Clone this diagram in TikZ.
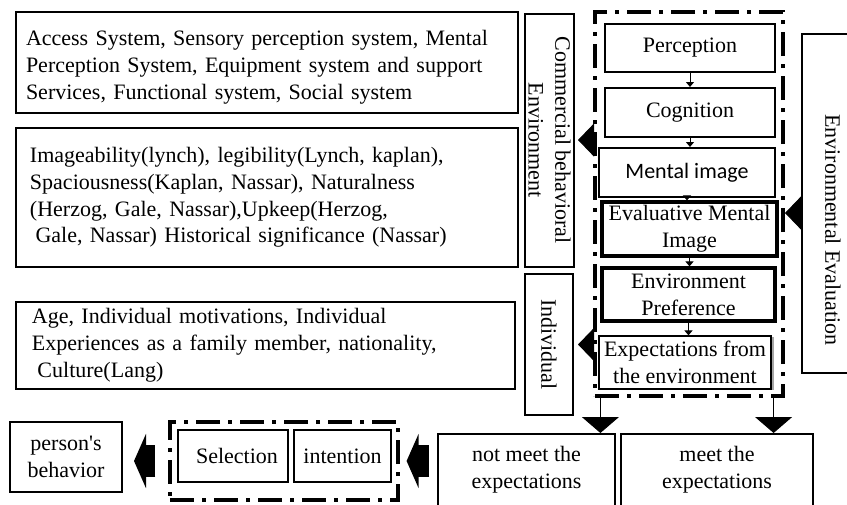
\documentclass[tikz,border=0pt]{standalone}
\usepackage{fontspec}
\setmainfont{Liberation Serif}
\newfontfamily\mentalfont{Carlito}
\usetikzlibrary{arrows.meta,shadows}

\begin{document}
\begin{tikzpicture}[x=0.5pt, y=-0.5pt, font=\fontsize{11}{13.4}\selectfont,
    box/.style={draw, line width=1pt, inner sep=0pt, align=center},
    thickbox/.style={box, line width=1.6pt},
    textbox/.style={draw, line width=1pt, align=left, inner ysep=0pt},
    dashdot/.style={draw, line width=1.6pt, dash pattern=on 12pt off 4pt on 2pt off 4pt},
    smalltip/.style={-{Triangle[length=2.5pt, width=4pt]}, line width=0.5pt},
    bigtip/.style={-{Triangle[length=8pt, width=16.5pt]}, line width=0.5pt},
    downtip/.style={-{Triangle[length=8pt, width=18.5pt]}, line width=0.5pt},
    fat/.style={-{Triangle[length=6pt, width=27pt]}, line width=16pt}]

    \useasboundingbox (0, 0) rectangle (847, 504);

    % left column
    \node[textbox, minimum width=251pt, text width=241pt, inner xsep=5pt, minimum height=50.5pt] (acc) at (267, 62.5)
        {\rule{0pt}{12.5pt}Access System, Sensory perception system, Mental\\Perception System, Equipment system and support\\Services, Functional system, Social system};
    \node[textbox, minimum width=251pt, text width=237pt, inner xsep=7pt, minimum height=69.5pt] (img) at (267, 197.5)
        {Imageability(lynch), legibility(Lynch, kaplan),\\Spaciousness(Kaplan, Nassar), Naturalness\\(Herzog, Gale, Nassar),Upkeep(Herzog,\\\hspace*{0.25em}Gale, Nassar) Historical significance (Nassar)};
    \node[textbox, minimum width=249.5pt, text width=233.5pt, inner xsep=8pt, minimum height=43.5pt] (age) at (265.5, 345.5)
        {Age, Individual motivations, Individual\\Experiences as a family member, nationality,\\\hspace*{0.25em}Culture(Lang)};
    \node[box, rotate=-90, minimum width=126.5pt, minimum height=24.5pt] (comm) at (549.5, 140) {Commercial behavioral\\Environment};
    \node[box, rotate=-90, minimum width=70.5pt, minimum height=24pt] (indiv) at (549, 344.5) {Individual};

    % process column
    \node[dashdot, minimum width=94pt, minimum height=192pt] (cont) at (689, 204) {};
    \node[box, minimum width=85pt, minimum height=24pt] (perc) at (690, 48) {Perception};
    \node[box, minimum width=85pt, minimum height=24.5pt] (cogn) at (690, 112.5) {Cognition};
    \node[box, minimum width=88pt, minimum height=24.5pt, font=\mentalfont\fontsize{11}{13}\selectfont] (ment) at (687, 172.5) {Mental image};
    \node[thickbox, minimum width=87.5pt, minimum height=27pt] (eval) at (689.5, 229) {Evaluative Mental\\Image};
    \node[thickbox, minimum width=86.5pt, minimum height=26.5pt] (pref) at (688.5, 294.5) {Environment\\Preference};
    \node[box, line width=0.6pt, fill=white, minimum width=86pt, minimum height=26.5pt,
        drop shadow={shadow xshift=1.5pt, shadow yshift=-0.5pt, fill=gray, opacity=0.7}] (expc) at (685, 362.5) {Expectations from\\the environment};

    \node[box, minimum width=29pt, minimum height=169.5pt] (envE) at (831, 203.5) {};
    \node[rotate=-90] (envT) at (833, 230) {Environmental Evaluation};
    \coordinate (evTip) at (785, 213);

    % bottom row
    \node[box, minimum width=88.5pt, minimum height=36pt] (nm) at (526.5, 470) {not meet the\\expectations};
    \node[box, minimum width=96pt, minimum height=36pt] (mt) at (717, 470) {meet the\\expectations};
    \node[dashdot, minimum width=114pt, minimum height=39pt] (selc) at (284, 461) {};
    \node[box, minimum width=55pt, minimum height=26pt] (sel) at (233, 456) {\hspace*{4pt}Selection};
    \node[box, minimum width=48.5pt, minimum height=26pt] (intn) at (342.5, 456) {intention};
    \node[box, minimum width=56pt, minimum height=35pt] (pers) at (66, 457) {person\textquotesingle s\\behavior};

    \draw [smalltip] (perc.south) -- (perc.south |- cogn.north);
    \draw [smalltip] (cogn.south) -- (cogn.south |- ment.north);
    \draw [smalltip] (ment.south) -- (ment.south |- eval.north);
    \draw [smalltip] (eval.south) -- (eval.south |- pref.north);
    \draw [smalltip] (pref.south) -- (pref.south |- expc.north);

    \draw [bigtip, shorten >=1.5pt] (cont.west |- comm) -- (comm);
    \draw [bigtip, shorten >=2pt] (cont.west |- indiv) -- (indiv);
    \draw [bigtip] (envE.west |- evTip) -- (evTip);

    \draw [downtip] ([xshift=3.5pt]cont.south west) -- ([xshift=3.5pt]cont.south west |- nm.north);
    \draw [downtip] ([xshift=-5.5pt]cont.south east) -- ([xshift=-5.5pt]cont.south east |- mt.north);

    \draw [fat, shorten <=4pt, shorten >=3.5pt] (nm.west |- selc) -- (selc.east);
    \draw [fat, shorten <=6.5pt, shorten >=5.5pt] (selc.west) -- (selc.west -| pers.east);

\end{tikzpicture}
\end{document}
